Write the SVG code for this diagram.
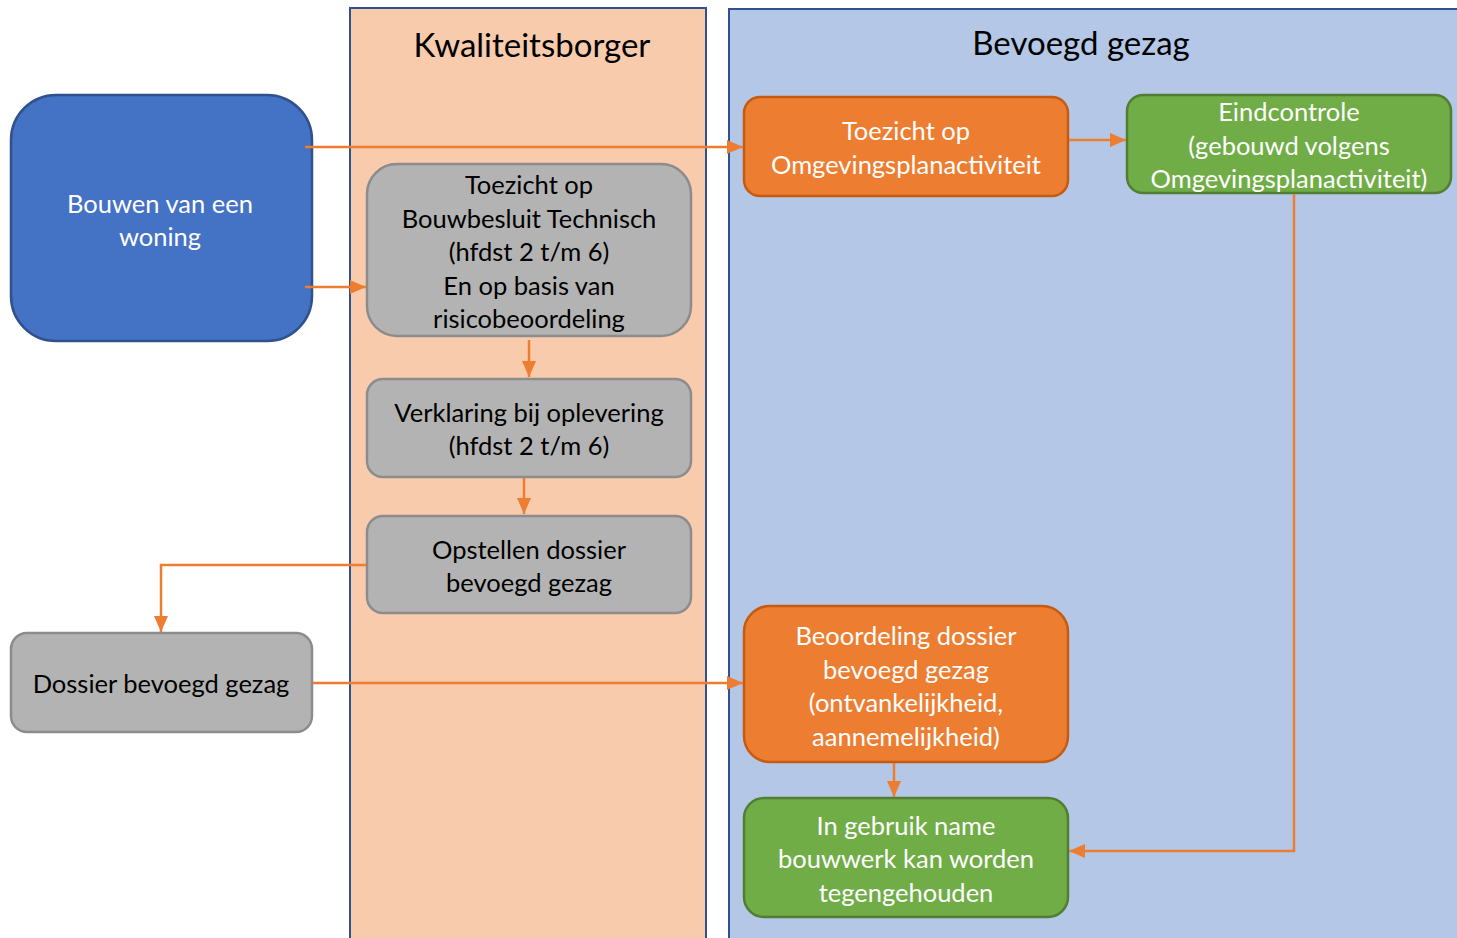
<svg xmlns="http://www.w3.org/2000/svg" width="1457" height="938" viewBox="0 0 1457 938">
<style>
.t{font-family:Lato,"Liberation Sans",sans-serif;font-size:25.5px;text-anchor:middle;dominant-baseline:central}
.w{fill:#fff}
.k{fill:#000}
.title{font-family:Lato,"Liberation Sans",sans-serif;font-size:33px;text-anchor:middle;dominant-baseline:central;fill:#000}
.gray{fill:#B3B3B3;stroke:#8C8C8C;stroke-width:2.5}
.org{fill:#ED7D31;stroke:#C55A11;stroke-width:2.5}
.grn{fill:#70AD47;stroke:#507E32;stroke-width:2.5}
.c{fill:none;stroke:#ED7D31;stroke-width:2.5}
</style>
<defs>
<marker id="a" markerWidth="16" markerHeight="14" refX="16" refY="7" orient="auto" markerUnits="userSpaceOnUse">
<path d="M0,0 L16,7 L0,14 Z" fill="#ED7D31"/>
</marker>
</defs>
<rect width="1457" height="938" fill="#fff"/>
<g id="lane-kwaliteitsborger">
<rect x="350" y="8" width="356" height="940" fill="#F8CBAD" stroke="#2F528F" stroke-width="2"/>
<text class="title" x="532" y="44">Kwaliteitsborger</text>
</g>
<g id="lane-bevoegd-gezag">
<rect x="729" y="9" width="740" height="940" fill="#B4C7E7" stroke="#2F528F" stroke-width="2"/>
<text class="title" x="1081" y="42">Bevoegd gezag</text>
</g>
<g id="bouwen">
<rect x="11" y="95" width="301" height="246" rx="45" fill="#4472C4" stroke="#2F528F" stroke-width="2.5"/>
<text class="t w" x="160" y="203">Bouwen van een</text>
<text class="t w" x="160" y="236">woning</text>
</g>
<g id="toezicht-bouwbesluit">
<rect class="gray" x="367" y="164" width="324" height="172" rx="30"/>
<text class="t k" x="529" y="184">Toezicht op</text>
<text class="t k" x="529" y="218">Bouwbesluit Technisch</text>
<text class="t k" x="529" y="251">(hfdst 2 t/m 6)</text>
<text class="t k" x="529" y="285">En op basis van</text>
<text class="t k" x="529" y="318">risicobeoordeling</text>
</g>
<g id="verklaring">
<rect class="gray" x="367" y="379" width="324" height="98" rx="16"/>
<text class="t k" x="529" y="412">Verklaring bij oplevering</text>
<text class="t k" x="529" y="445">(hfdst 2 t/m 6)</text>
</g>
<g id="opstellen">
<rect class="gray" x="367" y="516" width="324" height="97" rx="16"/>
<text class="t k" x="529" y="549">Opstellen dossier</text>
<text class="t k" x="529" y="582">bevoegd gezag</text>
</g>
<g id="dossier">
<rect class="gray" x="11" y="633" width="301" height="99" rx="16"/>
<text class="t k" x="161" y="683">Dossier bevoegd gezag</text>
</g>
<g id="toezicht-omgevingsplan">
<rect class="org" x="744" y="97" width="324" height="99" rx="16"/>
<text class="t w" x="906" y="130">Toezicht op</text>
<text class="t w" x="906" y="164">Omgevingsplanactiviteit</text>
</g>
<g id="eindcontrole">
<rect class="grn" x="1127" y="95" width="324" height="98" rx="16"/>
<text class="t w" x="1289" y="111">Eindcontrole</text>
<text class="t w" x="1289" y="145">(gebouwd volgens</text>
<text class="t w" x="1289" y="178">Omgevingsplanactiviteit)</text>
</g>
<g id="beoordeling">
<rect class="org" x="744" y="606" width="324" height="156" rx="26"/>
<text class="t w" x="906" y="635">Beoordeling dossier</text>
<text class="t w" x="906" y="669">bevoegd gezag</text>
<text class="t w" x="906" y="702">(ontvankelijkheid,</text>
<text class="t w" x="906" y="736">aannemelijkheid)</text>
</g>
<g id="in-gebruik">
<rect class="grn" x="744" y="798" width="324" height="119" rx="20"/>
<text class="t w" x="906" y="825">In gebruik name</text>
<text class="t w" x="906" y="858">bouwwerk kan worden</text>
<text class="t w" x="906" y="892">tegengehouden</text>
</g>
<g id="connectors">
<path class="c" d="M305,147 H743" marker-end="url(#a)"/>
<path class="c" d="M305,287 H366" marker-end="url(#a)"/>
<path class="c" d="M529,340 V377" marker-end="url(#a)"/>
<path class="c" d="M524,478 V514" marker-end="url(#a)"/>
<path class="c" d="M366,565 H161 V632" marker-end="url(#a)"/>
<path class="c" d="M313,683 H743" marker-end="url(#a)"/>
<path class="c" d="M1069,140 H1126" marker-end="url(#a)"/>
<path class="c" d="M894,763 V797" marker-end="url(#a)"/>
<path class="c" d="M1294,194 V851 H1069" marker-end="url(#a)"/>
</g>
</svg>
